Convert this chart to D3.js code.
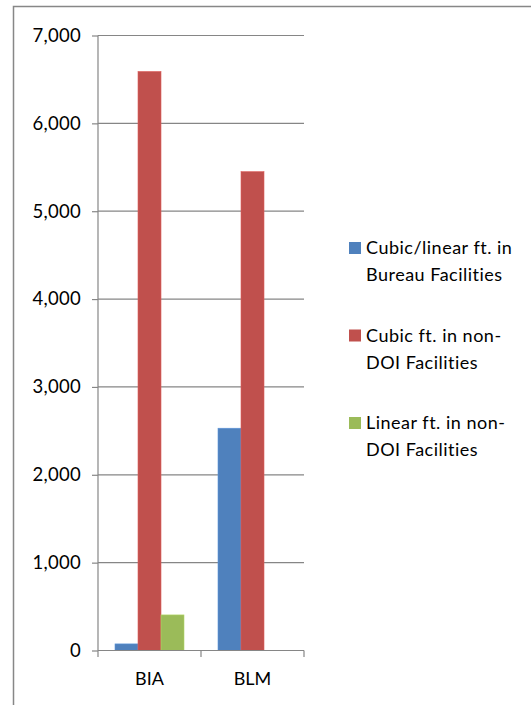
<!DOCTYPE html>
<html><head><meta charset="utf-8">
<script src="https://cdn.jsdelivr.net/npm/d3@7"></script>
<style>body{margin:0;background:#fff}svg{display:block}</style>
</head><body>
<script>
const categories = ["BIA", "BLM"];
const seriesNames = ["Cubic/linear ft. in Bureau Facilities", "Cubic ft. in non-DOI Facilities", "Linear ft. in non-DOI Facilities"];
const seriesLines = [["Cubic/linear ft. in", "Bureau Facilities"], ["Cubic ft. in non-", "DOI Facilities"], ["Linear ft. in non-", "DOI Facilities"]];
const bureauFacilities = [75, 2530];
const cubicNonDOI = [6590, 5450];
const linearNonDOI = [405, 0];
const yTicks = [0, 1000, 2000, 3000, 4000, 5000, 6000, 7000];
const colors = ["#4F81BD", "#C0504D", "#9BBB59"];

const series = [bureauFacilities, cubicNonDOI, linearNonDOI];
const W = 531, H = 705;
const font = "Lato, 'Open Sans', sans-serif";
const svg = d3.select("body").append("svg").attr("width", W).attr("height", H);

svg.append("rect").attr("x", 13.5).attr("y", 6.5).attr("width", 540).attr("height", 720)
  .attr("fill", "none").attr("stroke", "#878787").attr("stroke-width", 1.5);

const x0 = d3.scaleBand().domain(categories).range([98, 304]).paddingInner(0).paddingOuter(0);
const x1 = d3.scaleBand().domain(d3.range(series.length)).range([17, 86]);
const y = d3.scaleLinear().domain([0, 7000]).range([650.5, 35.5]);

// gridlines
svg.append("g").selectAll("line").data(yTicks.filter(d => d > 0)).join("line")
  .attr("x1", 98).attr("x2", 304).attr("y1", d => y(d)).attr("y2", d => y(d))
  .attr("stroke", "#868686").attr("stroke-width", 1.2);

// bars
const g = svg.append("g");
categories.forEach((c, ci) => {
  series.forEach((s, si) => {
    const v = s[ci];
    if (v <= 0) return;
    g.append("rect").attr("x", x0(c) + x1(si)).attr("width", x1.bandwidth())
      .attr("y", y(v)).attr("height", y(0) - y(v)).attr("fill", colors[si])
      .attr("stroke", d3.color(colors[si]).brighter(0.4)).attr("stroke-width", 0.6);
  });
});

// y axis
const yAxis = svg.append("g").attr("transform", "translate(98,0)")
  .call(d3.axisLeft(y).tickValues(yTicks).tickFormat(d3.format(",")).tickSize(6).tickPadding(11));
yAxis.select(".domain").attr("stroke", "#868686").attr("stroke-width", 1.2).attr("d", "M0," + y(7000) + "V" + y(0));
yAxis.selectAll(".tick line").attr("stroke", "#868686").attr("stroke-width", 1.2);
yAxis.selectAll("text").attr("font-family", font).attr("font-size", 18.5).attr("letter-spacing", 0.3).attr("fill", "#000");

// x axis
const xAxis = svg.append("g").attr("transform", "translate(0," + y(0) + ")");
xAxis.append("line").attr("x1", 98).attr("x2", 304).attr("stroke", "#868686").attr("stroke-width", 1.2);
const xt = [98, ...categories.map(c => x0(c) + x0.bandwidth())];
xAxis.selectAll(".xt").data(xt).join("line").attr("x1", d => d).attr("x2", d => d)
  .attr("y1", 0).attr("y2", 6.5).attr("stroke", "#868686").attr("stroke-width", 1.2);
xAxis.selectAll("text").data(categories).join("text")
  .attr("x", d => x0(d) + x0.bandwidth() / 2).attr("y", 34).attr("text-anchor", "middle")
  .attr("font-family", font).attr("font-size", 18).attr("fill", "#000").text(d => d);

// legend
const leg = svg.append("g");
seriesNames.forEach((n, i) => {
  const ly = 242 + i * 87.5;
  leg.append("rect").attr("x", 349).attr("y", ly).attr("width", 12).attr("height", 12).attr("fill", colors[i]);
  const t = leg.append("text").attr("font-family", font).attr("font-size", 18).attr("letter-spacing", 0.5).attr("fill", "#000");
  seriesLines[i].forEach((line, li) => {
    t.append("tspan").attr("x", 366).attr("y", ly + 12 + li * 27).text(line);
  });
});
</script>
</body></html>
